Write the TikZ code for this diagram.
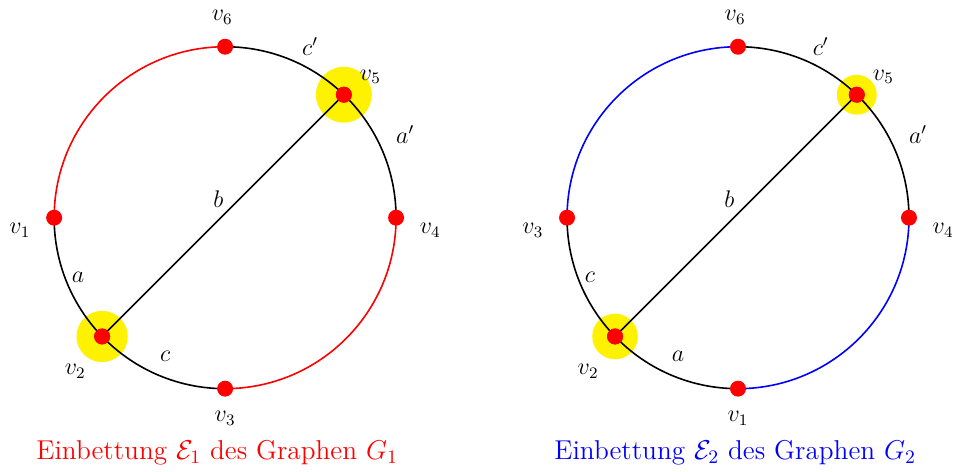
\RequirePackage{fix-cm}
\documentclass[tikz,border=0pt]{standalone}
\usetikzlibrary{positioning,calc}

\begin{document}
\begin{tikzpicture}[
  font=\large,
  vtx/.style={circle,fill=red,inner sep=0pt,minimum size=2.8mm},
  halo/.style={circle,fill=yellow,inner sep=0pt},
  edge/.style={line width=0.8pt},
  lbl/.style={inner sep=1pt},
  caption/.style={font=\fontsize{13.6pt}{16pt}\selectfont}
]
\useasboundingbox (-3.95,-4.46) rectangle (12.79,3.82);
% Einbettung 1
\node[halo,minimum size=9.8mm] (l5h) at (46:3) {};
\node[halo,minimum size=9.0mm] (l2h) at (224:3) {};
\draw[edge,red] (90:3) arc[start angle=90,end angle=180,radius=3];
\draw[edge,red] (0:3) arc[start angle=0,end angle=-90,radius=3];
\draw[edge] (90:3) arc[start angle=90,end angle=0,radius=3];
\draw[edge] (180:3) arc[start angle=180,end angle=270,radius=3];
\node[vtx] (l1) at (180:3) {};
\node[vtx] (l2) at (224:3) {};
\node[vtx] (l3) at (270:3) {};
\node[vtx] (l4) at (0:3) {};
\node[vtx] (l5) at (46:3) {};
\node[vtx] (l6) at (90:3) {};
\draw[edge] (l2.center) -- (l5.center);
\node[vtx] at (l2) {};
\node[vtx] at (l5) {};
\node[lbl] at (-3.6,-0.22) {$v_1$};
\node[lbl] at (-2.63,-2.7) {$v_2$};
\node[lbl] at (0,-3.52) {$v_3$};
\node[lbl] at (3.6,-0.22) {$v_4$};
\node[lbl] at (2.55,2.47) {$v_5$};
\node[lbl] at (-0.05,3.52) {$v_6$};
\node[lbl] at (-2.58,-1.05) {$a$};
\node[lbl] at (3.16,1.46) {$a'$};
\node[lbl] at (-0.12,0.32) {$b$};
\node[lbl] at (-1.05,-2.44) {$c$};
\node[lbl] at (1.49,3.0) {$c'$};
\node[caption,text=red] (cap1) at (-0.14,-4.12) {Einbettung $\mathcal{E}_1$ des Graphen $G_1$};
% Einbettung 2
\begin{scope}[xshift=9cm]
\node[halo,minimum size=7.0mm] (r5h) at (46:3) {};
\node[halo,minimum size=8.0mm] (r2h) at (224:3) {};
\draw[edge,blue] (90:3) arc[start angle=90,end angle=180,radius=3];
\draw[edge,blue] (0:3) arc[start angle=0,end angle=-90,radius=3];
\draw[edge] (90:3) arc[start angle=90,end angle=0,radius=3];
\draw[edge] (180:3) arc[start angle=180,end angle=270,radius=3];
\node[vtx] (r3) at (180:3) {};
\node[vtx] (r2) at (224:3) {};
\node[vtx] (r1) at (270:3) {};
\node[vtx] (r4) at (0:3) {};
\node[vtx] (r5) at (46:3) {};
\node[vtx] (r6) at (90:3) {};
\draw[edge] (r2.center) -- (r5.center);
\node[vtx] at (r2) {};
\node[vtx] at (r5) {};
\node[lbl] at (0,-3.52) {$v_1$};
\node[lbl] at (-2.63,-2.7) {$v_2$};
\node[lbl] at (-3.6,-0.22) {$v_3$};
\node[lbl] at (3.6,-0.22) {$v_4$};
\node[lbl] at (2.55,2.47) {$v_5$};
\node[lbl] at (-0.05,3.52) {$v_6$};
\node[lbl] at (-1.05,-2.44) {$a$};
\node[lbl] at (3.16,1.46) {$a'$};
\node[lbl] at (-0.15,0.32) {$b$};
\node[lbl] at (-2.6,-1.05) {$c$};
\node[lbl] at (1.45,3.0) {$c'$};
\node[caption,text=blue] (cap2) at (-0.05,-4.12) {Einbettung $\mathcal{E}_2$ des Graphen $G_2$};
\end{scope}
\end{tikzpicture}
\end{document}
